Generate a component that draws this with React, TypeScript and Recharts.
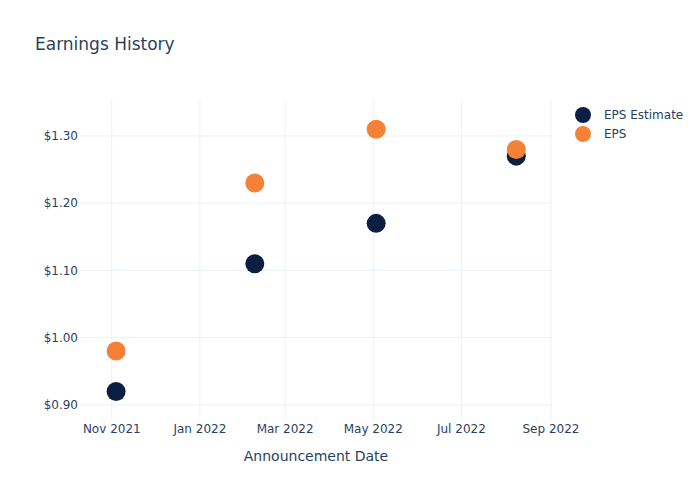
import React from 'react';
import { ScatterChart, Scatter, XAxis, YAxis, ReferenceLine } from 'recharts';

const estimateDates = ['2021-11-04', '2022-02-08', '2022-05-03', '2022-08-08'];
const estimateValues = [0.92, 1.11, 1.17, 1.27];
const epsDates = ['2021-11-04', '2022-02-08', '2022-05-03', '2022-08-08'];
const epsValues = [0.98, 1.23, 1.31, 1.28];
const xTickDates = ['2021-11-01', '2022-01-01', '2022-03-01', '2022-05-01', '2022-07-01', '2022-09-01'];
const yTicks = [0.9, 1.0, 1.1, 1.2, 1.3];

const MONTHS = ['Jan', 'Feb', 'Mar', 'Apr', 'May', 'Jun', 'Jul', 'Aug', 'Sep', 'Oct', 'Nov', 'Dec'];
const toTime = (d: string) => Date.parse(d + 'T00:00:00Z');

const estimateData = estimateDates.map((d, i) => ({ date: toTime(d), value: estimateValues[i] }));
const epsData = epsDates.map((d, i) => ({ date: toTime(d), value: epsValues[i] }));
const xTicks = xTickDates.map(toTime);

// x range a bit wider than the data, like plotly's autorange
const xDomain = [Date.parse('2021-10-10T00:00:00Z'), Date.parse('2022-09-01T17:00:00Z')];

const TEXT = '#2a3f5f';
const GRID = '#ebf0f8';
const FONT = '"DejaVu Sans", Verdana, sans-serif';
const NAVY = '#0b1f42';
const ORANGE = '#f58136';

const formatDate = (t: number) => {
  const d = new Date(t);
  return `${MONTHS[d.getUTCMonth()]} ${d.getUTCFullYear()}`;
};

const legendItems = [
  { name: 'EPS Estimate', color: NAVY },
  { name: 'EPS', color: ORANGE },
];

const Dot = (props: any) => {
  const { cx, cy, fill } = props;
  return <circle cx={cx} cy={cy} r={9.5} fill={fill} />;
};

export default function App() {
  return (
    <div style={{ position: 'absolute', left: 0, top: 0, width: 700, height: 500, background: '#fff' }}>
      <div style={{ position: 'absolute', left: 35, top: 34, fontFamily: FONT, fontSize: 17, color: TEXT }}>
        Earnings History
      </div>
      <div style={{ position: 'absolute', left: 575, top: 105, fontFamily: FONT, fontSize: 12, color: TEXT }}>
        {legendItems.map((item) => (
          <div key={item.name} style={{ display: 'flex', alignItems: 'center', height: 19 }}>
            <svg width={16} height={16} style={{ marginRight: 13 }}>
              <circle cx={8} cy={8} r={8} fill={item.color} />
            </svg>
            <span>{item.name}</span>
          </div>
        ))}
      </div>
      <ScatterChart width={700} height={500} margin={{ top: 100, right: 148, bottom: 0, left: 0 }}>
        <XAxis
          type="number"
          dataKey="date"
          domain={xDomain}
          ticks={xTicks}
          tickFormatter={formatDate}
          axisLine={false}
          tickLine={false}
          tickSize={0}
          tickMargin={4}
          height={80}
          interval={0}
          allowDataOverflow
          tick={{ fill: TEXT, fontSize: 12, fontFamily: FONT }}
          label={{
            value: 'Announcement Date',
            position: 'insideTop',
            offset: 31,
            fill: TEXT,
            fontSize: 14,
            fontFamily: FONT,
          }}
        />
        <YAxis
          type="number"
          dataKey="value"
          domain={[0.8775, 1.3535]}
          ticks={yTicks}
          tickFormatter={(v: number) => `$${v.toFixed(2)}`}
          axisLine={false}
          tickLine={false}
          tickSize={0}
          tickMargin={2}
          width={80}
          allowDataOverflow
          tick={{ fill: TEXT, fontSize: 12, fontFamily: FONT }}
        />
        {xTicks.map((t) => (
          <ReferenceLine key={`x${t}`} x={t} stroke={GRID} strokeWidth={1} ifOverflow="visible" />
        ))}
        {yTicks.map((v) => (
          <ReferenceLine key={`y${v}`} y={v} stroke={GRID} strokeWidth={1} />
        ))}
        <Scatter name="EPS Estimate" data={estimateData} fill={NAVY} shape={Dot} isAnimationActive={false} />
        <Scatter name="EPS" data={epsData} fill={ORANGE} shape={Dot} isAnimationActive={false} />
      </ScatterChart>
    </div>
  );
}
